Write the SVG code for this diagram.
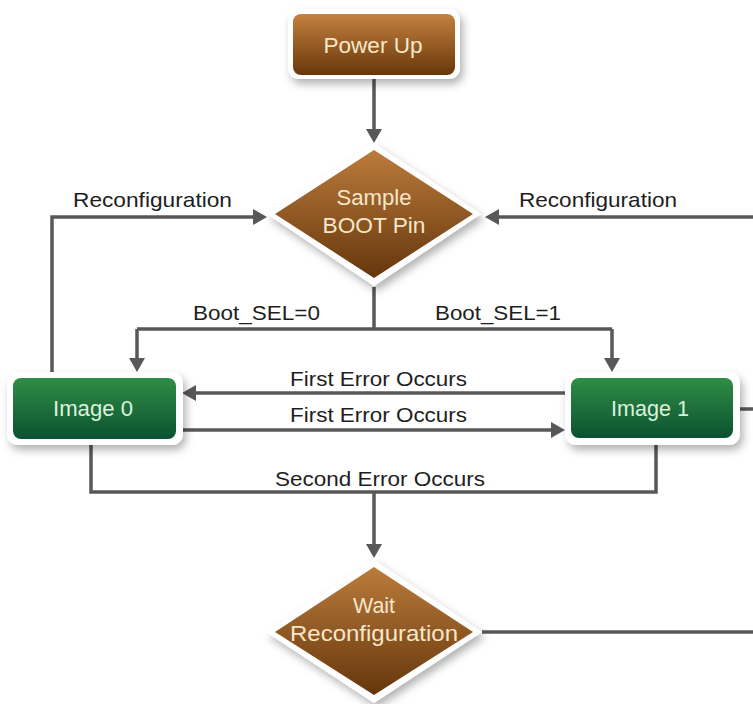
<svg xmlns="http://www.w3.org/2000/svg" width="753" height="704" viewBox="0 0 753 704">
<defs>
<linearGradient id="brown" x1="0" y1="0" x2="0" y2="1">
<stop offset="0" stop-color="#c4813f"/>
<stop offset="1" stop-color="#683709"/>
</linearGradient>
<linearGradient id="brownD" x1="0" y1="0" x2="0" y2="1">
<stop offset="0" stop-color="#bb7c3c"/>
<stop offset="1" stop-color="#65360c"/>
</linearGradient>
<linearGradient id="green" x1="0" y1="0" x2="0" y2="1">
<stop offset="0" stop-color="#2f8d46"/>
<stop offset="1" stop-color="#0b5230"/>
</linearGradient>
<filter id="sh" x="-20%" y="-20%" width="150%" height="160%">
<feDropShadow dx="3" dy="5" stdDeviation="4" flood-color="#000" flood-opacity="0.3"/>
</filter>
<marker id="ah" markerUnits="userSpaceOnUse" markerWidth="15" markerHeight="18" refX="4" refY="9" orient="auto">
<path d="M0,1 L14,9 L0,17 z" fill="#585858"/>
</marker>
<style>
.frame{fill:#fff;filter:url(#sh)}
.nt{font-family:"Liberation Sans",Arial,sans-serif;font-size:22px;text-anchor:middle}
.bt{fill:#f6e7c9}
.gt{fill:#dcf2dc}
.lbl{font-family:"Liberation Sans",Arial,sans-serif;font-size:21px;fill:#1e1e1e}
.c{fill:none;stroke:#585858;stroke-width:3.5}
.ca{fill:none;stroke:#585858;stroke-width:3.5;marker-end:url(#ah)}
</style>
</defs>
<rect width="753" height="704" fill="#fff"/>

<g id="connectors">
<path class="ca" d="M374,79 V133"/>
<path class="c" d="M374,287 V329 M137,329 H612"/>
<path class="ca" d="M137,329 V362"/>
<path class="ca" d="M612,329 V362"/>
<path class="ca" d="M52,372 V217 H257"/>
<path class="c" d="M740,409 H765 V217"/>
<path class="ca" d="M765,217 H495"/>
<path class="c" d="M482,632 H765 V409"/>
<path class="ca" d="M566,393 H192"/>
<path class="ca" d="M182,430 H555"/>
<path class="c" d="M91,445 V492 H656 V445"/>
<path class="ca" d="M374,492 V548"/>
<text class="lbl" x="73" y="207" textLength="159" lengthAdjust="spacingAndGlyphs">Reconfiguration</text>
<text class="lbl" x="519" y="207" textLength="158" lengthAdjust="spacingAndGlyphs">Reconfiguration</text>
<text class="lbl" x="193" y="320" textLength="127" lengthAdjust="spacingAndGlyphs">Boot_SEL=0</text>
<text class="lbl" x="435" y="320" textLength="126" lengthAdjust="spacingAndGlyphs">Boot_SEL=1</text>
<text class="lbl" x="290" y="386" textLength="177" lengthAdjust="spacingAndGlyphs">First Error Occurs</text>
<text class="lbl" x="290" y="422" textLength="177" lengthAdjust="spacingAndGlyphs">First Error Occurs</text>
<text class="lbl" x="275" y="486" textLength="210" lengthAdjust="spacingAndGlyphs">Second Error Occurs</text>
</g>

<g id="power-up">
<rect class="frame" x="288" y="9" width="172" height="70" rx="11"/>
<rect x="293" y="14" width="162" height="61" rx="8" fill="url(#brown)"/>
<text class="nt bt" x="373" y="53" textLength="99" lengthAdjust="spacingAndGlyphs">Power Up</text>
</g>

<g id="sample-boot-pin">
<polygon class="frame" points="374,143 481,214 374,286 267,214"/>
<polygon points="374,150 473,214 374,278 275,214" fill="url(#brownD)"/>
<text class="nt bt" x="374" y="205" textLength="75" lengthAdjust="spacingAndGlyphs">Sample</text>
<text class="nt bt" x="374" y="233" textLength="103" lengthAdjust="spacingAndGlyphs">BOOT Pin</text>
</g>

<g id="image-0">
<rect class="frame" x="7" y="372" width="176" height="73" rx="11"/>
<rect x="13" y="378" width="163" height="61" rx="8" fill="url(#green)"/>
<text class="nt gt" x="93" y="416" textLength="80" lengthAdjust="spacingAndGlyphs">Image 0</text>
</g>

<g id="image-1">
<rect class="frame" x="565" y="372" width="175" height="73" rx="11"/>
<rect x="571" y="378" width="162" height="60" rx="8" fill="url(#green)"/>
<text class="nt gt" x="650" y="416" textLength="78" lengthAdjust="spacingAndGlyphs">Image 1</text>
</g>

<g id="wait-reconfiguration">
<polygon class="frame" points="374,560 482,632 374,703 266,632"/>
<polygon points="374,567 473,632 374,695 275,632" fill="url(#brownD)"/>
<text class="nt bt" x="374" y="613" textLength="42" lengthAdjust="spacingAndGlyphs">Wait</text>
<text class="nt bt" x="374" y="641" textLength="168" lengthAdjust="spacingAndGlyphs">Reconfiguration</text>
</g>
</svg>
